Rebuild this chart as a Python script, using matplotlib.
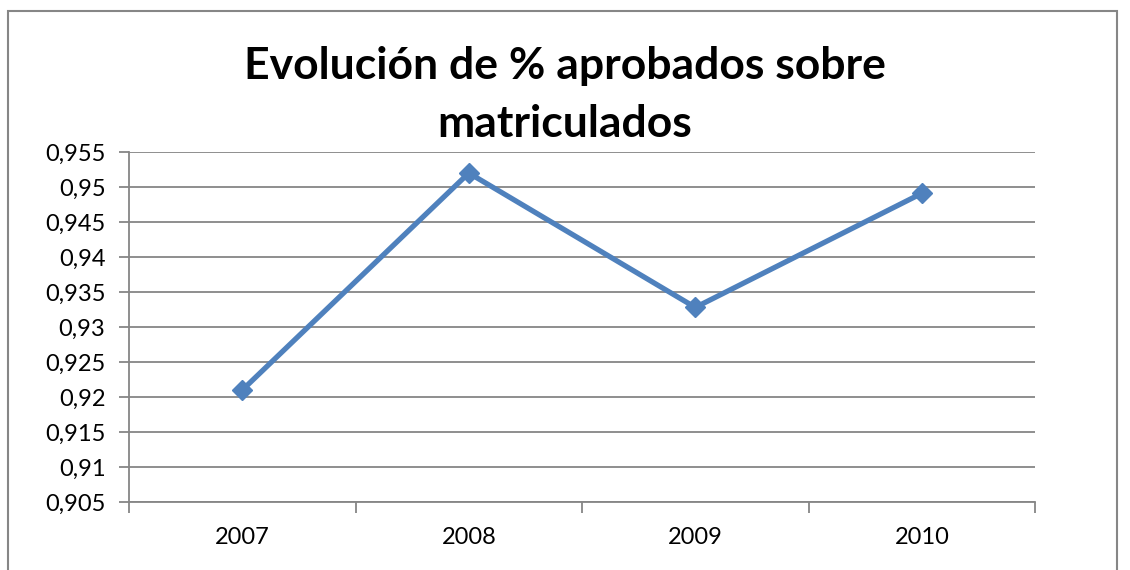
import matplotlib
matplotlib.use('Agg')
from matplotlib import pyplot as plt
from matplotlib.patches import Rectangle

# donnees
annees = ['2007', '2008', '2009', '2010']
porcentaje = [0.921, 0.952, 0.9328, 0.9491]
ticks_y = [0.905, 0.91, 0.915, 0.92, 0.925, 0.93, 0.935, 0.94, 0.945, 0.95, 0.955]

plt.rcParams['font.family'] = ['Lato', 'DejaVu Sans']
gris = '#868686'

fig = plt.figure(figsize=(11.3, 5.7), dpi=100)
ax = fig.add_axes([0.1142, 0.1193, 0.8018, 0.614])

# cadre exterieur du graphique
fig.patches.append(Rectangle((8 / 1130, -0.05), 1109 / 1130, 1 - 11 / 570 + 0.05,
                             transform=fig.transFigure, fill=False,
                             edgecolor=gris, linewidth=1.5))

x = range(len(annees))
ax.plot(x, porcentaje, color='#4F81BD', linewidth=3.8, marker='D',
        markersize=10.5, zorder=3)

ax.set_xlim(-0.5, len(annees) - 0.5)
ax.set_ylim(0.905, 0.955)
ax.set_yticks(ticks_y)
ax.set_yticklabels([('%g' % v).replace('.', ',') for v in ticks_y])
ax.yaxis.grid(True, color=gris, linewidth=1.3)
ax.set_axisbelow(True)

ax.set_xticks([i - 0.5 for i in range(len(annees) + 1)])
ax.set_xticklabels([])
ax.set_xticks(list(x), minor=True)
ax.set_xticklabels(annees, minor=True)
ax.tick_params(axis='x', which='major', length=8, width=1.3, color=gris, direction='out')
ax.tick_params(axis='x', which='minor', length=0, pad=18, labelsize=17)
ax.tick_params(axis='y', length=7, width=1.3, color=gris, labelsize=17, pad=10)

for s in ['top', 'right']:
    ax.spines[s].set_visible(False)
for s in ['left', 'bottom']:
    ax.spines[s].set_color(gris)
    ax.spines[s].set_linewidth(1.3)

fig.text(0.5, 0.834, 'Evolución de % aprobados sobre\nmatriculados', ha='center', va='center',
         fontsize=32, fontweight='bold', linespacing=1.55)

plt.savefig('out.png', dpi=100)
